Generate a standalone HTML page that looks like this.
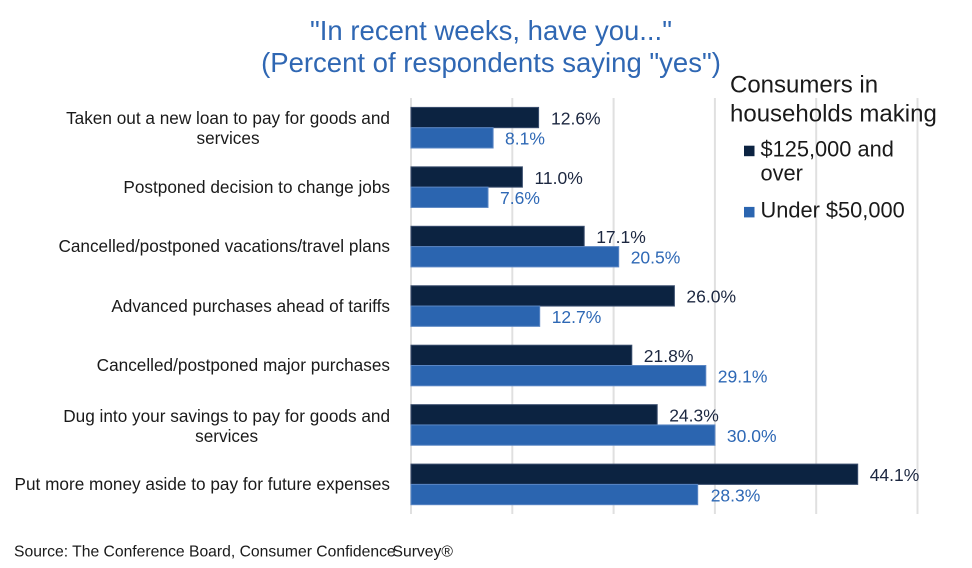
<!DOCTYPE html>
<html>
<head>
<meta charset="utf-8">
<style>
  html,body{margin:0;padding:0;background:#fff;}
  body{width:972px;height:568px;position:relative;overflow:hidden;font-family:"Liberation Sans",Arial,sans-serif;}
  svg{position:absolute;left:0;top:0;}
  .cat{position:absolute;right:582px;text-align:center;white-space:nowrap;font-size:17.2px;line-height:20px;color:#1a1a1a;}
</style>
</head>
<body>
<svg width="972" height="568" viewBox="0 0 972 568" xmlns="http://www.w3.org/2000/svg" font-family="Liberation Sans, Arial, sans-serif">
  <!-- title -->
  <text x="491" y="40" text-anchor="middle" font-size="27.5" fill="#2F67B3">"In recent weeks, have you..."</text>
  <text x="491" y="72" text-anchor="middle" font-size="27.5" fill="#2F67B3">(Percent of respondents saying "yes")</text>

  <!-- gridlines -->
  <g stroke="#e0e0e0" stroke-width="2">
    <line x1="411" y1="98" x2="411" y2="514"/>
    <line x1="512.3" y1="98" x2="512.3" y2="514"/>
    <line x1="613.6" y1="98" x2="613.6" y2="514"/>
    <line x1="714.9" y1="98" x2="714.9" y2="514"/>
    <line x1="816.2" y1="98" x2="816.2" y2="514"/>
    <line x1="917.5" y1="98" x2="917.5" y2="514"/>
  </g>

  <!-- bars -->
  <g stroke-width="1">
    <!-- 0 -->
    <rect x="411" y="107.4" width="127.6" height="20.3" fill="#0C2341" stroke="#3B4E6E"/>
    <rect x="411" y="127.7" width="82.1" height="20.3" fill="#2B65B0" stroke="#5A86C4"/>
    <!-- 1 -->
    <rect x="411" y="166.85" width="111.4" height="20.3" fill="#0C2341" stroke="#3B4E6E"/>
    <rect x="411" y="187.15" width="77.0" height="20.3" fill="#2B65B0" stroke="#5A86C4"/>
    <!-- 2 -->
    <rect x="411" y="226.3" width="173.2" height="20.3" fill="#0C2341" stroke="#3B4E6E"/>
    <rect x="411" y="246.6" width="207.7" height="20.3" fill="#2B65B0" stroke="#5A86C4"/>
    <!-- 3 -->
    <rect x="411" y="285.75" width="263.4" height="20.3" fill="#0C2341" stroke="#3B4E6E"/>
    <rect x="411" y="306.05" width="128.7" height="20.3" fill="#2B65B0" stroke="#5A86C4"/>
    <!-- 4 -->
    <rect x="411" y="345.2" width="220.8" height="20.3" fill="#0C2341" stroke="#3B4E6E"/>
    <rect x="411" y="365.5" width="294.8" height="20.3" fill="#2B65B0" stroke="#5A86C4"/>
    <!-- 5 -->
    <rect x="411" y="404.65" width="246.2" height="20.3" fill="#0C2341" stroke="#3B4E6E"/>
    <rect x="411" y="424.95" width="303.9" height="20.3" fill="#2B65B0" stroke="#5A86C4"/>
    <!-- 6 -->
    <rect x="411" y="464.1" width="446.7" height="20.3" fill="#0C2341" stroke="#3B4E6E"/>
    <rect x="411" y="484.4" width="286.7" height="20.3" fill="#2B65B0" stroke="#5A86C4"/>
  </g>

  <!-- data labels -->
  <g font-size="17.5">
    <text x="551" y="124.3" fill="#1C2740">12.6%</text>
    <text x="505" y="144.3" fill="#2E68B5">8.1%</text>
    <text x="534.5" y="183.8" fill="#1C2740">11.0%</text>
    <text x="500" y="204.1" fill="#2E68B5">7.6%</text>
    <text x="596.2" y="243.2" fill="#1C2740">17.1%</text>
    <text x="630.7" y="263.5" fill="#2E68B5">20.5%</text>
    <text x="686.4" y="302.7" fill="#1C2740">26.0%</text>
    <text x="551.7" y="323" fill="#2E68B5">12.7%</text>
    <text x="643.8" y="362.1" fill="#1C2740">21.8%</text>
    <text x="717.8" y="382.4" fill="#2E68B5">29.1%</text>
    <text x="669.2" y="421.6" fill="#1C2740">24.3%</text>
    <text x="726.9" y="441.9" fill="#2E68B5">30.0%</text>
    <text x="869.7" y="481" fill="#1C2740">44.1%</text>
    <text x="710.7" y="501.3" fill="#2E68B5">28.3%</text>
  </g>

  <!-- legend -->
  <text x="730" y="92.6" font-size="24" fill="#1a1a1a">Consumers in</text>
  <text x="730" y="121.7" font-size="24" fill="#1a1a1a">households making</text>
  <rect x="744" y="145.7" width="10.5" height="10.5" fill="#0C2341"/>
  <text x="760.5" y="156.7" font-size="21.8" fill="#1a1a1a">$125,000 and</text>
  <text x="760.5" y="180.7" font-size="21.8" fill="#1a1a1a">over</text>
  <rect x="744" y="206.9" width="10.5" height="10.5" fill="#2B65B0"/>
  <text x="760.5" y="217.7" font-size="21.8" fill="#1a1a1a">Under $50,000</text>

  <!-- source -->
  <text x="14" y="556.7" font-size="15.7" fill="#1a1a1a">Source: The Conference Board, Consumer Confidence</text>
  <text x="392.5" y="556.7" font-size="15.7" fill="#1a1a1a">Survey®</text>
</svg>

<div class="cat" style="top:108.2px;">Taken out a new loan to pay for goods and<br>services</div>
<div class="cat" style="top:176.8px;">Postponed decision to change jobs</div>
<div class="cat" style="top:236.3px;">Cancelled/postponed vacations/travel plans</div>
<div class="cat" style="top:295.7px;">Advanced purchases ahead of tariffs</div>
<div class="cat" style="top:355.2px;">Cancelled/postponed major purchases</div>
<div class="cat" style="top:405.6px;">Dug into your savings to pay for goods and<br>services</div>
<div class="cat" style="top:474.1px;">Put more money aside to pay for future expenses</div>
</body>
</html>
